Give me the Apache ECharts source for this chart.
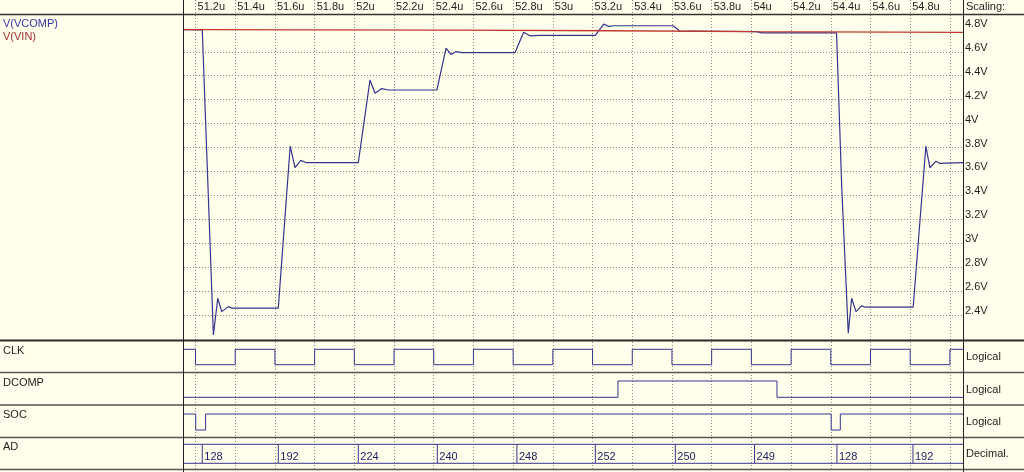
<!DOCTYPE html>
<html><head><meta charset="utf-8">
<script src="https://cdn.jsdelivr.net/npm/echarts@6/dist/echarts.min.js"></script>
<style>html,body{margin:0;padding:0;background:#FFFFEB;}#c{width:1024px;height:472px;}</style>
</head><body><div id="c"></div><script>
// ---- data ----
const timeTicks = [51.2,51.4,51.6,51.8,52.0,52.2,52.4,52.6,52.8,53.0,53.2,53.4,53.6,53.8,54.0,54.2,54.4,54.6,54.8,55.0];
const timeTickLabels = ['51.2u','51.4u','51.6u','51.8u','52u','52.2u','52.4u','52.6u','52.8u','53u','53.2u','53.4u','53.6u','53.8u','54u','54.2u','54.4u','54.6u','54.8u',''];
const voltGrid = [2.4,2.6,2.8,3.0,3.2,3.4,3.6,3.8,4.0,4.2,4.4,4.6];
const voltTicks = [2.4,2.6,2.8,3.0,3.2,3.4,3.6,3.8,4.0,4.2,4.4,4.6,4.8];
const voltTickLabels = ['2.4V','2.6V','2.8V','3V','3.2V','3.4V','3.6V','3.8V','4V','4.2V','4.4V','4.6V','4.8V'];

const vcompT = [51.142,51.234,51.256,51.290,51.312,51.332,51.365,51.384,51.617,51.677,51.701,51.730,51.760,52.020,52.079,52.104,52.138,52.170,52.416,52.462,52.487,52.512,52.542,52.809,52.853,52.885,52.935,53.214,53.256,53.281,53.308,53.606,53.640,53.674,53.691,54.026,54.052,54.429,54.455,54.488,54.505,54.527,54.555,54.577,54.815,54.879,54.899,54.930,54.950,55.066];
const vcompV = [4.786,4.784,3.784,2.233,2.540,2.428,2.470,2.457,2.457,3.812,3.631,3.692,3.673,3.673,4.365,4.254,4.293,4.281,4.281,4.631,4.577,4.602,4.593,4.593,4.763,4.734,4.738,4.738,4.832,4.813,4.818,4.818,4.772,4.772,4.774,4.769,4.758,4.758,3.476,2.247,2.540,2.428,2.476,2.465,2.465,3.812,3.631,3.686,3.667,3.673];
const vinT = [51.142,52.5,53.3,54.0,55.066];
const vinV = [4.786,4.781,4.776,4.769,4.763];

const clkT = [51.142,51.2,51.4,51.6,51.8,52.0,52.2,52.4,52.6,52.8,53.0,53.2,53.4,53.6,53.8,54.0,54.2,54.4,54.6,54.8,55.0,55.066];
const clkLevel = [1,0,1,0,1,0,1,0,1,0,1,0,1,0,1,0,1,0,1,0,1,1];
const dcompT = [51.142,53.328,54.129,55.066];
const dcompLevel = [0,1,0,0];
const socT = [51.142,51.201,51.251,54.402,54.448,55.066];
const socLevel = [1,0,1,0,1,1];
const adT = [51.142,51.234,51.617,52.020,52.418,52.819,53.214,53.617,54.016,54.431,54.814];
const adCodes = [null,128,192,224,240,248,252,250,249,128,192];

// ---- layout / style ----
const XMIN = 51.142, XMAX = 55.066;
const VMIN = 2.1908, VMAX = 4.9078, LABEL_SHIFT = 0.0335;
const FONT = 'Liberation Sans, Arial, sans-serif';
const NAVY = '#35358f';
const RED = '#c23a2e';
const TXT = '#1e1e1e';
const GRIDC = '#8c8c8c';

function tickLabel(v){
  for (let i=0;i<timeTicks.length;i++) if (Math.abs(timeTicks[i]-v)<1e-6) return timeTickLabels[i];
  return '';
}
function voltLabel(v){
  for (let i=0;i<voltTicks.length;i++) if (Math.abs(voltTicks[i]-v)<1e-6) return voltTickLabels[i];
  return '';
}
const pair = (T,V)=>T.map((t,i)=>[t,V[i]]);

const panels = [
  {top:341, h:32, min:-0.539, max:1.539},
  {top:373, h:32, min:-0.472, max:1.49},
  {top:405, h:32, min:-0.4375, max:1.5625},
  {top:437, h:32, min:-0.3, max:1.384}
];

const grids = [
  {left:184, right:61, top:0, bottom:3},
  {left:184, right:61, top:15, height:325}
].concat(panels.map(p=>({left:184, right:61, top:p.top, height:p.h})));

const xAxes = grids.map((g,i)=>{
  if (i===0) return {
    gridIndex:0, type:'value', min:XMIN, max:XMAX, position:'top',
    axisLine:{show:false},
    axisTick:{show:false, customValues: timeTicks},
    axisLabel:{show:true, inside:true, customValues: timeTicks.slice(0,-1), formatter: tickLabel,
      margin:1, align:'left', verticalAlign:'top', padding:[0,0,0,2], color:TXT, fontSize:11, fontFamily:FONT},
    splitLine:{show:true, lineStyle:{color:GRIDC, width:1, type:[1,2]}}
  };
  return {gridIndex:i, type:'value', min:XMIN, max:XMAX, show:false};
});

const yAxes = grids.map((g,i)=>{
  if (i===0) return {gridIndex:0, type:'value', show:false, min:0, max:1};
  if (i===1) return {
    gridIndex:1, type:'value', min:VMIN, max:VMAX, position:'right',
    axisLine:{show:false},
    axisTick:{show:false, customValues: voltGrid},
    axisLabel:{show:false},
    splitLine:{show:true, lineStyle:{color:GRIDC, width:1, type:[1,2]}}
  };
  const p = panels[i-2];
  return {gridIndex:i, type:'value', show:false, min:p.min, max:p.max};
});
// label-only axis for the voltage scale (text sits slightly above its grid row)
yAxes.push({
  gridIndex:1, type:'value', min:VMIN-LABEL_SHIFT, max:VMAX-LABEL_SHIFT, position:'right',
  axisLine:{show:false}, axisTick:{show:false}, splitLine:{show:false},
  axisLabel:{show:true, customValues: voltTicks, formatter: voltLabel, margin:2, align:'left',
    verticalAlign:'middle', color:TXT, fontSize:11, fontFamily:FONT}
});

const stepSeries = (T,L,idx)=>({
  type:'line', xAxisIndex:idx, yAxisIndex:idx, step:'end', data:pair(T,L),
  showSymbol:false, symbol:'none', lineStyle:{color:NAVY, width:1}, silent:true, animation:false
});

const adSeg = adT.map((t,i)=>[t, i+1<adT.length ? adT[i+1] : XMAX]);

const series = [
  {type:'line', xAxisIndex:1, yAxisIndex:1, data:pair(vcompT,vcompV), showSymbol:false, symbol:'none',
   lineStyle:{color:NAVY, width:1.2}, silent:true, animation:false},
  {type:'line', xAxisIndex:1, yAxisIndex:1, data:pair(vinT,vinV), showSymbol:false, symbol:'none',
   lineStyle:{color:RED, width:1.3}, silent:true, animation:false},
  stepSeries(clkT, clkLevel, 2),
  stepSeries(dcompT, dcompLevel, 3),
  stepSeries(socT, socLevel, 4),
  {type:'custom', xAxisIndex:5, yAxisIndex:5, data:adSeg, encode:{x:[0,1]}, clip:true, silent:true, animation:false,
   renderItem:function(params, api){
     const s = api.value(0), e = api.value(1);
     const code = adCodes[params.dataIndex];
     const a = api.coord([s,1]), b = api.coord([e,0]);
     const st = {stroke:NAVY, lineWidth:1};
     const ch = [
       {type:'line', shape:{x1:a[0], y1:a[1], x2:b[0], y2:a[1]}, style:st},
       {type:'line', shape:{x1:a[0], y1:b[1], x2:b[0], y2:b[1]}, style:st}
     ];
     if (code !== null) {
       ch.push({type:'line', shape:{x1:a[0], y1:a[1], x2:a[0], y2:b[1]}, style:st});
       ch.push({type:'text', x:a[0]+2, y:b[1]-1, style:{text:String(code), fill:'#22226a', fontSize:11, fontFamily:FONT, align:'left', verticalAlign:'bottom'}});
     }
     return {type:'group', children:ch};
   }}
];

function hline(y, w, c){ return {type:'line', silent:true, z:100, shape:{x1:0,y1:y,x2:1024,y2:y}, style:{stroke:c, lineWidth:w}}; }
function vline(x, w, c){ return {type:'line', silent:true, z:100, shape:{x1:x,y1:0,x2:x,y2:472}, style:{stroke:c, lineWidth:w}}; }
function txt(x, y, s, c){ return {type:'text', silent:true, z:101, x:x, y:y, style:{text:s, fill:c, fontSize:11, fontFamily:FONT, align:'left', verticalAlign:'middle'}}; }

const graphics = [
  hline(14.5, 1.3, '#333'),
  hline(340.5, 2, '#2a2a2a'),
  hline(372.5, 1.6, '#555'),
  hline(405, 1.6, '#555'),
  hline(437.5, 1.6, '#555'),
  hline(469.5, 1.6, '#555'),
  vline(183.5, 1, '#222'),
  vline(963.5, 1, '#222'),
  txt(3, 24, 'V(VCOMP)', '#3434a8'),
  txt(3, 37, 'V(VIN)', '#a83030'),
  txt(3, 350.5, 'CLK', TXT),
  txt(3, 383, 'DCOMP', TXT),
  txt(3, 415, 'SOC', TXT),
  txt(3, 447, 'AD', TXT),
  txt(966, 7, 'Scaling:', TXT),
  txt(966, 357, 'Logical', TXT),
  txt(966, 390, 'Logical', TXT),
  txt(966, 422, 'Logical', TXT),
  txt(966, 454, 'Decimal.', TXT)
];

const chart = echarts.init(document.getElementById('c'), null, {renderer:'canvas'});
chart.setOption({
  backgroundColor:'#FFFFEB',
  animation:false,
  grid: grids,
  xAxis: xAxes,
  yAxis: yAxes,
  series: series,
  graphic: {elements: graphics}
});
</script></body></html>
